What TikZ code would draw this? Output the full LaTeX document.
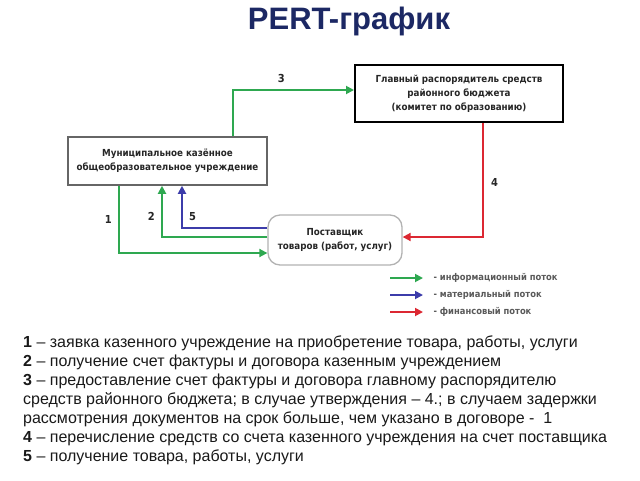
\documentclass[tikz,border=0pt]{standalone}
\usepackage{fontspec}
\setmainfont{Liberation Sans}
\newfontfamily\boxfont{DejaVu Sans Condensed}
\usetikzlibrary{arrows.meta}

\definecolor{titleblue}{RGB}{28,40,100}
\definecolor{infogreen}{RGB}{46,168,80}
\definecolor{matblue}{RGB}{60,60,170}
\definecolor{finred}{RGB}{220,40,50}

\begin{document}
\begin{tikzpicture}[x=1pt,y=-1pt,
    flow/.style={line width=1.8pt,-{Triangle[length=8pt,width=8pt]}},
    info/.style={flow,infogreen},
    mat/.style={flow,matblue},
    fin/.style={flow,finred},
    unit/.style={draw,align=center,text=black!85,
        font=\boxfont\bfseries\fontsize{9.7}{14}\selectfont},
    num/.style={text=black!85,font=\boxfont\bfseries\fontsize{11}{12}\selectfont},
    legendtext/.style={text=black!65,anchor=west,
        font=\boxfont\bfseries\fontsize{9.3}{10}\selectfont}]

    % fix the page size
    \useasboundingbox (0,0) rectangle (640,480);

    % title
    \node[font=\bfseries\fontsize{31}{33}\selectfont,text=titleblue] (title) at (349,21) {PERT-график};

    % draw boxes
    \node[unit,draw=black!60,line width=1.5pt,minimum width=199pt,minimum height=48pt]
        (school) at (167.5,161) {Муниципальное казённое\\общеобразовательное учреждение};
    \node[unit,draw=black,line width=2pt,minimum width=208pt,minimum height=57pt]
        (budget) at (459,93.5) {Главный распорядитель средств\\районного бюджета\\(комитет по образованию)};
    \node[unit,draw=black!30,line width=1.3pt,rounded corners=12pt,minimum width=134pt,minimum height=50pt]
        (supplier) at (335,240) {Поставщик\\товаров (работ, услуг)};

    % flows
    \draw[info] ([xshift=-48.5pt]school.south) |- node[num,pos=0.25,left=3pt] (n1) {1} ([yshift=-13pt]supplier.west);
    \draw[info] ([yshift=3pt]supplier.west) -| node[num,pos=0.7,left=3pt] (n2) {2} ([xshift=-5.5pt]school.south);
    \draw[mat] ([yshift=12pt]supplier.west) -| node[num,pos=0.63,right=3pt] (n5) {5} ([xshift=14.5pt]school.south);
    \draw[info] ([xshift=65.5pt]school.north) |- node[num,pos=0.7,above=3pt] (n3) {3} ([yshift=3.5pt]budget.west);
    \draw[fin] ([xshift=24pt]budget.south) |- node[num,pos=0.26,right=4pt] (n4) {4} ([yshift=3pt]supplier.east);

    % legend
    \foreach \sty/\txt [count=\i] in {info/информационный поток,mat/материальный поток,fin/финансовый поток} {
        \coordinate (legstart\i) at (390,261+17*\i);
        \coordinate (legend\i) at (423,261+17*\i);
        \draw[\sty] (legstart\i) -- (legend\i);
        \node[legendtext] (legtext\i) at (430,261+17*\i) {- \txt};
    }

    % explanation of the numbers
    \node[anchor=north west,inner sep=0pt,align=left,text=black!90,
        font=\fontsize{16}{19}\selectfont] (notes) at (23,336) {%
        \textbf{1} -- заявка казенного учреждение на приобретение товара, работы, услуги\\
        \textbf{2} -- получение счет фактуры и договора казенным учреждением\\
        \textbf{3} -- предоставление счет фактуры и договора главному распорядителю\\
        средств районного бюджета; в случае утверждения -- 4.; в случаем задержки\\
        рассмотрения документов на срок больше, чем указано в договоре -\ \ 1\\
        \textbf{4} -- перечисление средств со счета казенного учреждения на счет поставщика\\
        \textbf{5} -- получение товара, работы, услуги};
\end{tikzpicture}
\end{document}
